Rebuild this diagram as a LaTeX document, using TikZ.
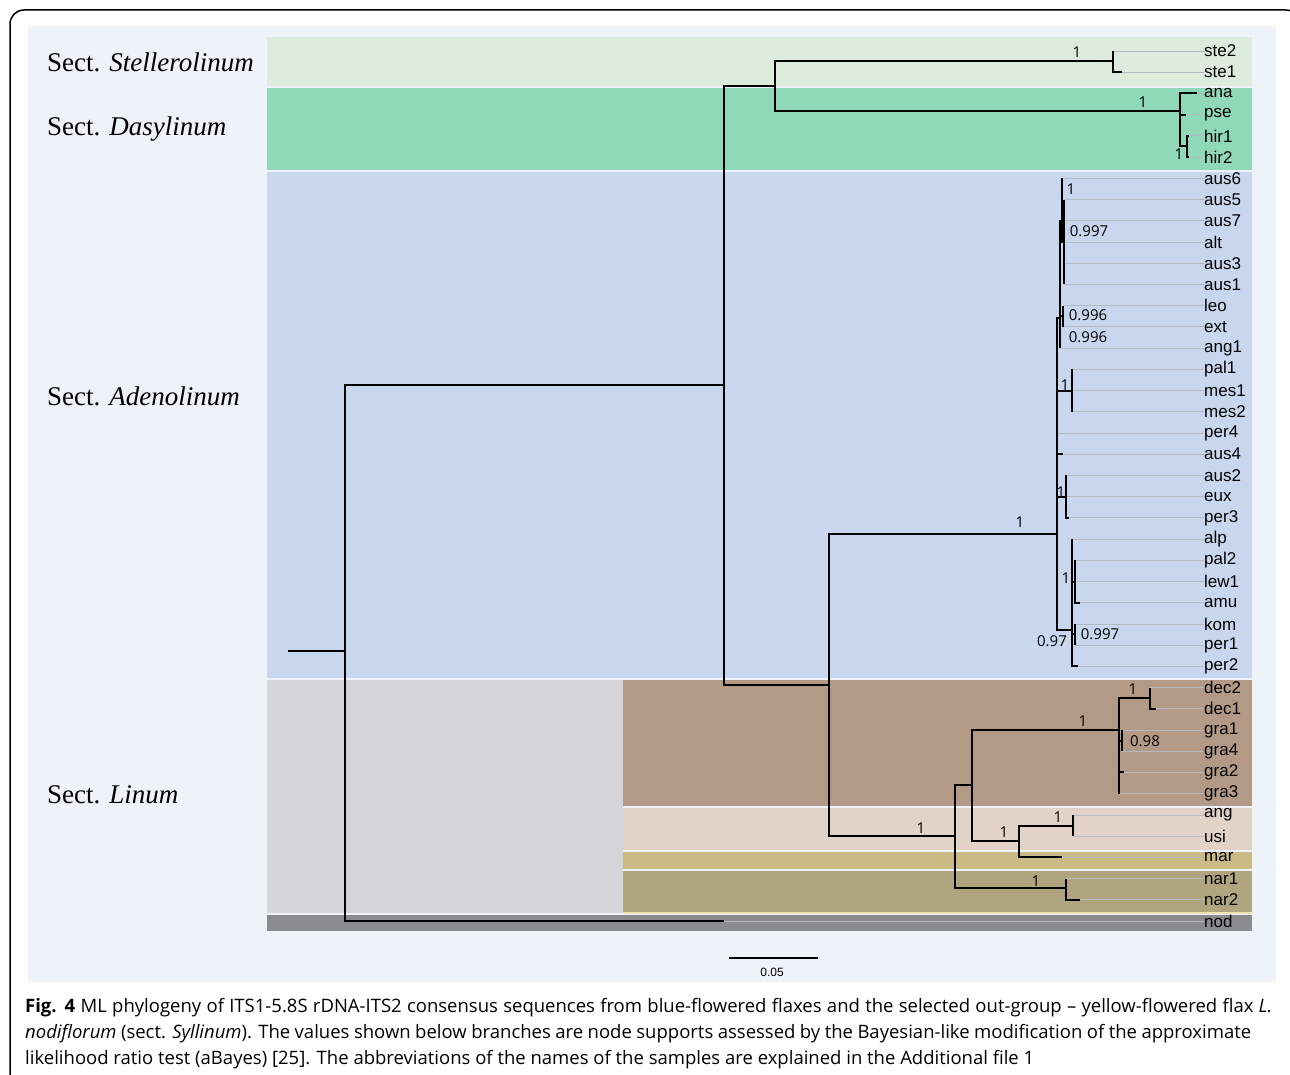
\documentclass[tikz,border=0pt]{standalone}
\usepackage{fontspec}
\setmainfont{Liberation Serif}
\newfontfamily\taxfont{Liberation Sans}
\newfontfamily\supfont{Open Sans}
\newfontfamily\capfont{Open Sans}
\definecolor{panel}{HTML}{EEF2F9}
\definecolor{stel}{HTML}{DDEBDC}
\definecolor{dasy}{HTML}{8FD8B8}
\definecolor{aden}{HTML}{C8D7EE}
\definecolor{lingrey}{HTML}{D4D5D9}
\definecolor{brownb}{HTML}{B39A87}
\definecolor{pinkb}{HTML}{E3D2C8}
\definecolor{mustb}{HTML}{CBBA84}
\definecolor{oliveb}{HTML}{B1A580}
\definecolor{yelline}{HTML}{EDE3B5}
\definecolor{nodb}{HTML}{898B8F}
\definecolor{leafgrey}{HTML}{B4B9C2}
\tikzset{
  br/.style={line width=2pt, black},
  leafline/.style={line width=0.8pt, leafgrey},
  taxon/.style={anchor=west, inner sep=0pt, font=\taxfont\fontsize{17}{19}\selectfont},
  sup/.style={inner sep=0pt, font=\supfont\fontsize{15}{17}\selectfont},
  sect/.style={anchor=west, inner sep=0pt, font=\fontsize{27}{30}\selectfont},
  capline/.style={anchor=base west, inner sep=0pt, font=\capfont\fontsize{18.5}{20}\selectfont},
}
\begin{document}
\begin{tikzpicture}[x=1pt,y=-1pt]
\useasboundingbox (0,0) rectangle (1290,1075);
\clip (0,0) rectangle (1290,1075);
% frame
\draw[line width=1.5pt, rounded corners=14pt] (10,1110) -- (10,10) -- (1300,10) -- (1300,1110);
% panel
\fill[panel] (28,26) rectangle (1276,982);
% bands
\fill[stel] (267,37) rectangle (1252,86);
\fill[dasy] (267,88) rectangle (1252,170);
\fill[aden] (267,172) rectangle (1252,678);
\fill[lingrey] (267,680) rectangle (623,913);
\fill[brownb] (623,680) rectangle (1252,806);
\fill[pinkb] (623,808) rectangle (1252,850);
\fill[mustb] (623,852) rectangle (1252,869);
\fill[oliveb] (623,871) rectangle (1252,912);
\fill[yelline] (623,912) rectangle (1252,914);
\fill[nodb] (267,915) rectangle (1252,931);
% section labels
\node[sect] (s1) at (47,62) {Sect. \textit{Stellerolinum}};
\node[sect] (s2) at (47,129) {Sect. \textit{Dasylinum}};
\node[sect] (s3) at (47,396) {Sect. \textit{Adenolinum}};
\node[sect] (s4) at (47,795) {Sect. \textit{Linum}};
% leaves
\foreach \n/\tx [count=\i from 0] in {ste2/1113,ste1/1122,ana/1197,pse/1186,hir1/1189,hir2/1189,
  aus6/1062,aus5/1064,aus7/1064,alt/1064,aus3/1064,aus1/1064,leo/1063,ext/1063,ang1/1060,
  pal1/1072,mes1/1072,mes2/1072,per4/1057,aus4/1063,aus2/1066,eux/1066,per3/1069,
  alp/1072,pal2/1075,lew1/1075,amu/1080,kom/1075,per1/1075,per2/1078,
  dec2/1150,dec1/1156,gra1/1122,gra4/1122,gra2/1124,gra3/1119,ang/1073,usi/1073,mar/1062,
  nar1/1066,nar2/1080,nod/724}{
  \pgfmathsetmacro\yy{51+21.22*\i}
  \coordinate (t-\n) at (\tx,\yy);
  \node[taxon] (lab-\n) at (1204,\yy) {\n};
  \draw[leafline] (t-\n) -- (lab-\n.west);
}
% internal nodes
\coordinate (rootstart) at (288,651);
\coordinate (R) at (345,651);
\coordinate (A) at (724,385);
\coordinate (B) at (775,86);
\coordinate (C) at (829,685);
\coordinate (S) at (1113,61);
\coordinate (D) at (1180,111);
\coordinate (H) at (1187,146);
\coordinate (E) at (1057,534);
\coordinate (E1) at (1060,318);
\coordinate (E2) at (1062,221);
\coordinate (E3) at (1064,242);
\coordinate (LE) at (1063,316);
\coordinate (PM) at (1072,391);
\coordinate (AE) at (1066,497);
\coordinate (F) at (1072,630);
\coordinate (G) at (1075,582);
\coordinate (K) at (1075,634);
\coordinate (L) at (955,836);
\coordinate (L1) at (972,785);
\coordinate (L2) at (1119,730);
\coordinate (DC) at (1150,698);
\coordinate (GR) at (1122,741);
\coordinate (L3) at (1019,841);
\coordinate (AU) at (1073,826);
\coordinate (NR) at (1066,888);
% branches
\draw[br] (rootstart) -- (R);
\draw[br] (R) |- (A);
\draw[br] (R) |- (t-nod);
\draw[br] (A) |- (B);
\draw[br] (A) |- (C);
\draw[br] (B) |- (S);
\draw[br] (B) |- (D);
\draw[br] (S) |- (t-ste2);
\draw[br] (S) |- (t-ste1);
\draw[br] (D) |- (t-ana);
\draw[br] (D) |- (t-pse);
\draw[br] (D) |- (H);
\draw[br] (H) |- (t-hir1);
\draw[br] (H) |- (t-hir2);
\draw[br] (C) |- (E);
\draw[br] (C) |- (L);
\draw[br] (E) |- (E1);
\draw[br] (E1) |- (E2);
\draw[br] (E1) |- (LE);
\draw[br] (E1) |- (t-ang1);
\draw[br] (E2) |- (t-aus6);
\draw[br] (E2) |- (E3);
\foreach \c in {aus5,aus7,alt,aus3,aus1} \draw[br] (E3) |- (t-\c);
\draw[br] (LE) |- (t-leo);
\draw[br] (LE) |- (t-ext);
\draw[br] (E) |- (PM);
\foreach \c in {pal1,mes1,mes2} \draw[br] (PM) |- (t-\c);
\draw[br] (E) |- (t-per4);
\draw[br] (E) |- (t-aus4);
\draw[br] (E) |- (AE);
\foreach \c in {aus2,eux,per3} \draw[br] (AE) |- (t-\c);
\draw[br] (E) |- (F);
\draw[br] (F) |- (t-alp);
\draw[br] (F) |- (G);
\draw[br] (F) |- (K);
\draw[br] (F) |- (t-per2);
\foreach \c in {pal2,lew1,amu} \draw[br] (G) |- (t-\c);
\draw[br] (K) |- (t-kom);
\draw[br] (K) |- (t-per1);
\draw[br] (L) |- (L1);
\draw[br] (L) |- (NR);
\draw[br] (L1) |- (L2);
\draw[br] (L1) |- (L3);
\draw[br] (L2) |- (DC);
\draw[br] (L2) |- (GR);
\draw[br] (L2) |- (t-gra2);
\draw[br] (L2) |- (t-gra3);
\draw[br] (DC) |- (t-dec2);
\draw[br] (DC) |- (t-dec1);
\draw[br] (GR) |- (t-gra1);
\draw[br] (GR) |- (t-gra4);
\draw[br] (L3) |- (AU);
\draw[br] (L3) |- (t-mar);
\draw[br] (AU) |- (t-ang);
\draw[br] (AU) |- (t-usi);
\draw[br] (NR) |- (t-nar1);
\draw[br] (NR) |- (t-nar2);
% supports
\node[sup] (p1) at (1077,52) {1};
\node[sup] (p2) at (1143,102) {1};
\node[sup] (p3) at (1179,154) {1};
\node[sup] (p4) at (1071,189) {1};
\node[sup] (p5) at (1089,231) {0.997};
\node[sup] (p6) at (1088,315) {0.996};
\node[sup] (p7) at (1088,337) {0.996};
\node[sup] (p8) at (1065,385) {1};
\node[sup] (p9) at (1061,492) {1};
\node[sup] (p10) at (1020,522) {1};
\node[sup] (p11) at (1066,578) {1};
\node[sup] (p12) at (1052,641) {0.97};
\node[sup] (p13) at (1100,634) {0.997};
\node[sup] (p14) at (1133,689) {1};
\node[sup] (p15) at (1083,721) {1};
\node[sup] (p16) at (1145,741) {0.98};
\node[sup] (p17) at (1058,817) {1};
\node[sup] (p18) at (1004,832) {1};
\node[sup] (p19) at (921,828) {1};
\node[sup] (p20) at (1036,881) {1};
% scale bar
\coordinate (sb1) at (729,958);
\coordinate (sb2) at (818,958);
\draw[line width=2.5pt] (sb1) -- (sb2);
\node[inner sep=0pt, font=\taxfont\fontsize{12}{14}\selectfont] (sbl) at (772,972) {0.05};
% caption
\node[capline] (c1) at (25,1012) {\makebox[1247pt][s]{\textbf{Fig. 4} ML phylogeny of ITS1-5.8S rDNA-ITS2 consensus sequences from blue-flowered flaxes and the selected out-group – yellow-flowered flax \textit{L.}}};
\node[capline] (c2) at (25,1038) {\makebox[1226pt][s]{\textit{nodiflorum} (sect. \textit{Syllinum}). The values shown below branches are node supports assessed by the Bayesian-like modification of the approximate}};
\node[capline] (c3) at (25,1064) {likelihood ratio test (aBayes) [25]. The abbreviations of the names of the samples are explained in the Additional file 1};
\end{tikzpicture}
\end{document}
